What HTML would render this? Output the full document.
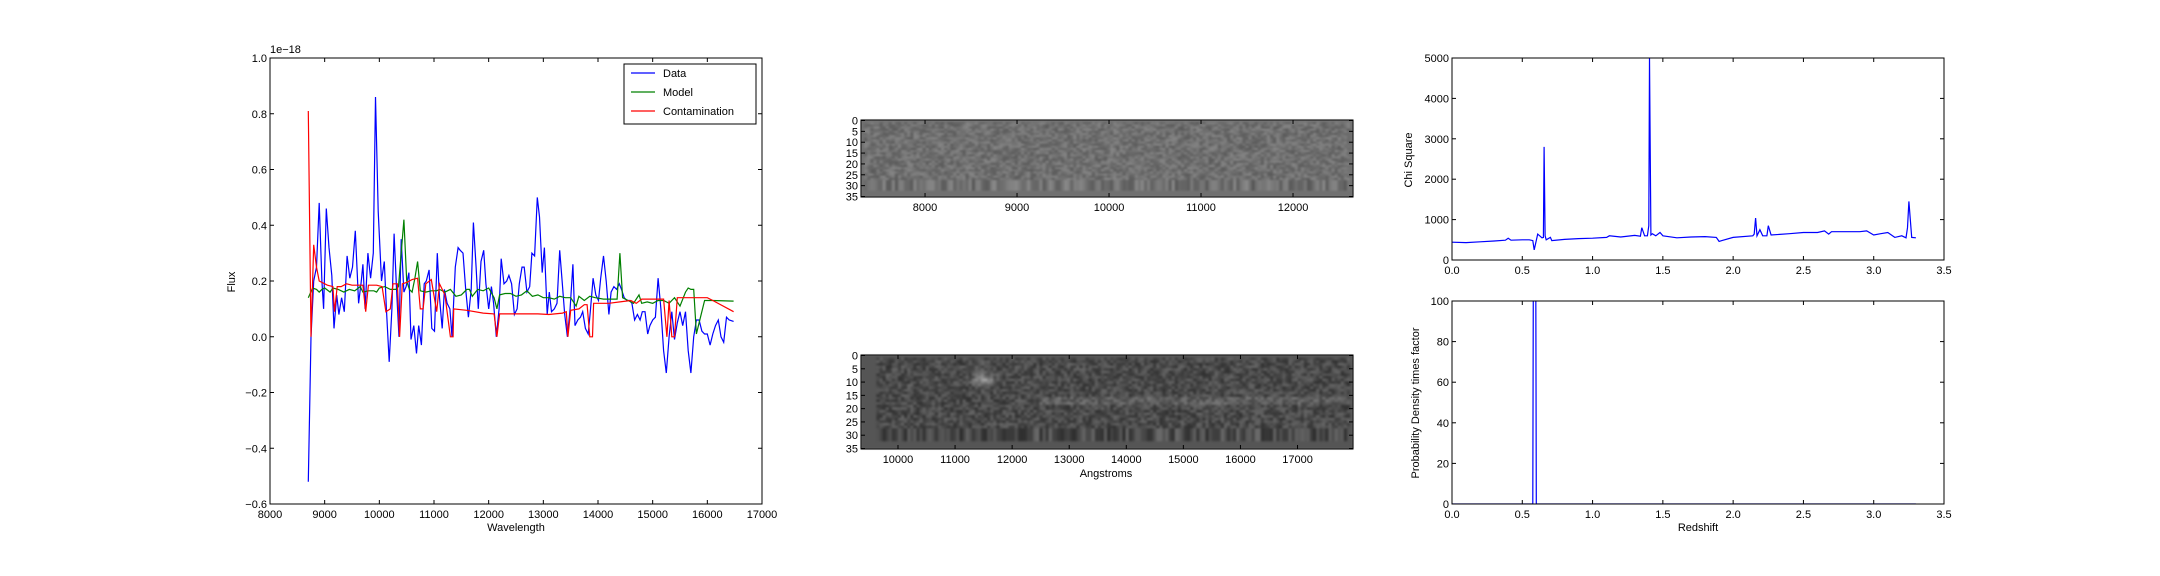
<!DOCTYPE html>
<html><head><meta charset="utf-8">
<style>
html,body{margin:0;padding:0;background:#fff;}
#wrap{position:relative;width:2160px;height:576px;overflow:hidden;background:#fff;}
svg{position:absolute;left:0;top:0;}
canvas{position:absolute;image-rendering:auto;filter:blur(0.8px);}
text{font-family:"Liberation Sans",sans-serif;font-size:11px;fill:#000;}
</style></head>
<body>
<div id="wrap">
<canvas id="img1" width="160" height="36" style="left:861px;top:120px;width:492px;height:77px;"></canvas>
<canvas id="img2" width="160" height="36" style="left:861px;top:355px;width:492px;height:94px;"></canvas>
<svg id="fig" width="2160" height="576"></svg>
</div>
<script>
// ---- Left spectrum chart data ----
const dataWave=[8700,8750,8800,8850,8900,8950,8980,9030,9080,9130,9170,9220,9260,9310,9360,9410,9460,9510,9560,9620,9670,9700,9740,9790,9840,9890,9930,9980,10040,10090,10130,10180,10230,10270,10320,10360,10400,10450,10490,10540,10580,10630,10680,10720,10770,10820,10860,10910,10960,11010,11060,11100,11150,11190,11240,11290,11330,11390,11440,11480,11530,11580,11630,11680,11720,11770,11810,11860,11910,11950,12000,12050,12090,12140,12190,12230,12280,12330,12370,12420,12470,12520,12560,12610,12650,12700,12750,12790,12840,12890,12930,12980,13020,13070,13110,13150,13200,13250,13300,13340,13390,13440,13490,13540,13580,13630,13680,13720,13770,13820,13860,13910,13960,14010,14050,14100,14150,14200,14240,14290,14340,14390,14430,14480,14530,14580,14620,14670,14720,14770,14810,14860,14910,14950,15000,15050,15100,15150,15200,15250,15300,15350,15400,15450,15500,15550,15600,15650,15700,15750,15800,15850,15900,15950,16000,16050,16100,16150,16200,16250,16300,16350,16400,16480];
const dataFlux=[-0.52,0.0,0.2,0.25,0.48,0.2,0.1,0.46,0.32,0.22,0.03,0.15,0.08,0.14,0.09,0.29,0.21,0.25,0.38,0.12,0.2,0.26,0.1,0.3,0.21,0.3,0.86,0.45,0.2,0.27,0.1,-0.09,0.1,0.37,0.15,0.0,0.35,0.16,0.18,0.23,-0.01,0.04,-0.06,0.04,-0.03,0.19,0.2,0.24,0.03,0.02,0.3,0.14,0.03,0.17,0.12,0.1,0.0,0.25,0.32,0.31,0.3,0.17,0.07,0.17,0.41,0.25,0.1,0.27,0.31,0.19,0.1,0.18,0.12,0.0,0.1,0.28,0.19,0.2,0.22,0.19,0.08,0.1,0.19,0.25,0.25,0.16,0.18,0.3,0.29,0.5,0.43,0.23,0.32,0.08,0.16,0.09,0.1,0.12,0.31,0.21,0.08,0.0,0.1,0.26,0.04,0.06,0.07,0.09,0.03,0.01,0.09,0.21,0.15,0.13,0.21,0.29,0.2,0.08,0.16,0.18,0.17,0.19,0.17,0.14,0.13,0.13,0.12,0.06,0.08,0.06,0.09,0.09,0.01,0.04,0.06,0.07,0.21,0.1,-0.05,-0.13,0.0,0.09,-0.01,0.05,0.09,0.04,0.09,-0.05,-0.13,0.0,0.06,0.06,0.02,0.01,0.01,-0.03,0.01,0.04,0.06,0.0,-0.02,0.07,0.06,0.055];
const modelWave=[8700,8780,8850,8900,8950,9000,9100,9150,9250,9350,9450,9550,9650,9700,9800,9900,9950,10000,10100,10200,10300,10350,10400,10450,10500,10550,10600,10650,10700,10750,10850,10950,11050,11100,11200,11300,11400,11500,11600,11650,11700,11800,11900,12000,12100,12150,12200,12300,12400,12500,12600,12700,12800,12900,13000,13100,13200,13300,13400,13500,13600,13650,13750,13850,13950,14100,14200,14350,14400,14450,14550,14650,14750,14800,14900,15000,15100,15200,15300,15400,15500,15600,15650,15700,15750,15800,15850,15950,16100,16480];
const modelFlux=[0.14,0.175,0.17,0.16,0.17,0.175,0.16,0.175,0.17,0.16,0.17,0.165,0.18,0.16,0.165,0.165,0.16,0.175,0.18,0.17,0.17,0.18,0.3,0.42,0.2,0.17,0.16,0.21,0.27,0.165,0.16,0.165,0.165,0.17,0.16,0.17,0.145,0.15,0.17,0.17,0.145,0.17,0.165,0.175,0.14,0.1,0.15,0.155,0.155,0.145,0.15,0.165,0.145,0.15,0.14,0.14,0.135,0.145,0.14,0.14,0.11,0.145,0.13,0.145,0.14,0.135,0.135,0.135,0.3,0.14,0.13,0.12,0.15,0.12,0.125,0.12,0.13,0.13,0.12,0.14,0.11,0.16,0.175,0.17,0.17,0.01,0.05,0.13,0.13,0.128];
const contWave=[8700,8750,8800,8850,8900,9000,9050,9150,9180,9230,9300,9400,9500,9700,9750,9800,9950,10050,10120,10200,10250,10330,10370,10420,10500,10600,10700,10750,10800,10850,10950,11050,11100,11200,11300,11350,11360,11600,11900,12100,12150,12200,12500,12900,13100,13350,13420,13450,13500,13650,13750,13800,13850,13900,13920,14200,14400,14600,14700,14800,15200,15260,15300,15350,15400,15450,15800,16000,16100,16480];
const contFlux=[0.81,0.0,0.33,0.25,0.2,0.19,0.185,0.18,0.09,0.18,0.18,0.19,0.185,0.185,0.09,0.185,0.185,0.18,0.09,0.1,0.19,0.19,0.0,0.19,0.195,0.205,0.21,0.1,0.1,0.19,0.205,0.09,0.19,0.15,0.0,0.0,0.1,0.095,0.085,0.082,0.0,0.082,0.082,0.082,0.08,0.085,0.09,0.0,0.095,0.1,0.115,0.115,0.0,0.0,0.12,0.12,0.125,0.13,0.12,0.135,0.135,0.0,0.13,0.0,0.0,0.14,0.14,0.14,0.13,0.09];
const leftXTicks=[8000,9000,10000,11000,12000,13000,14000,15000,16000,17000];
const leftYTicks=[-0.6,-0.4,-0.2,0.0,0.2,0.4,0.6,0.8,1.0];
const leftYLabels=["\u22120.6","\u22120.4","\u22120.2","0.0","0.2","0.4","0.6","0.8","1.0"];
// ---- Chi square data ----
const chiZ=[0,0.1,0.2,0.3,0.38,0.4,0.42,0.5,0.55,0.575,0.585,0.61,0.64,0.65,0.655,0.662,0.67,0.7,0.71,0.8,0.9,1.0,1.1,1.12,1.2,1.3,1.34,1.35,1.37,1.39,1.4,1.405,1.415,1.425,1.45,1.48,1.5,1.6,1.7,1.8,1.88,1.9,1.92,2.0,2.14,2.15,2.16,2.17,2.19,2.21,2.24,2.25,2.27,2.4,2.5,2.6,2.65,2.68,2.7,2.9,2.95,3.0,3.05,3.1,3.15,3.2,3.23,3.24,3.25,3.27,3.3];
const chiVal=[440,430,450,470,490,540,490,500,500,480,250,640,550,560,2800,600,500,560,480,510,530,540,560,600,570,610,590,800,600,600,850,5000,620,650,600,680,600,550,570,580,560,460,480,560,600,640,1040,600,750,600,600,850,620,650,680,680,720,640,700,700,720,620,650,680,560,600,550,800,1450,560,550];
const chiXTicks=[0,0.5,1.0,1.5,2.0,2.5,3.0,3.5];
const chiXLabels=["0.0","0.5","1.0","1.5","2.0","2.5","3.0","3.5"];
const chiYTicks=[0,1000,2000,3000,4000,5000];
// ---- Probability data ----
const probZ=[0,0.57,0.575,0.58,0.595,0.6,0.605,3.3];
const probVal=[0,0,0,150,150,0,0,0];
const probYTicks=[0,20,40,60,80,100];
// ---- image axes ticks ----
const img1XTicks=[8000,9000,10000,11000,12000];
const img2XTicks=[10000,11000,12000,13000,14000,15000,16000,17000];
const imgYTicks=[0,5,10,15,20,25,30,35];

const NS="http://www.w3.org/2000/svg";
const svg=document.getElementById('fig');
function el(tag,attrs,parent){const e=document.createElementNS(NS,tag);for(const k in attrs)e.setAttribute(k,attrs[k]);(parent||svg).appendChild(e);return e;}
function lin(d0,d1,r0,r1){return v=>r0+(v-d0)/(d1-d0)*(r1-r0);}
function txt(x,y,s,anchor,name,rot){const t=el('text',{x:x,y:y,'text-anchor':anchor||'middle'});t.textContent=s;


if(rot)t.setAttribute('transform','rotate(-90 '+x+' '+y+')');return t;}
function frame(x0,y0,x1,y1,name){const r=el('rect',{x:x0,y:y0,width:x1-x0,height:y1-y0,fill:'none',stroke:'#000','stroke-width':1});

}
function xticks(vals,labels,sx,y0,y1,name){vals.forEach((v,i)=>{const x=sx(v);
el('line',{x1:x,x2:x,y1:y1,y2:y1-4,stroke:'#000'});el('line',{x1:x,x2:x,y1:y0,y2:y0+4,stroke:'#000'});
txt(x,y1+14,labels?labels[i]:String(v),'middle',name);});}
function yticks(vals,labels,sy,x0,x1,name){vals.forEach((v,i)=>{const y=sy(v);
el('line',{x1:x0,x2:x0+4,y1:y,y2:y,stroke:'#000'});el('line',{x1:x1,x2:x1-4,y1:y,y2:y,stroke:'#000'});
txt(x0-3,y+4,labels?labels[i]:String(v),'end',name);});}
function path(xs,ys,sx,sy,color,name,clip){const d=xs.map((v,i)=>(i?'L':'M')+sx(v).toFixed(1)+' '+sy(ys[i]).toFixed(1)).join(' ');
const p=el('path',{d:d,fill:'none',stroke:color,'stroke-width':1.2});if(clip)p.setAttribute('clip-path','url(#'+clip+')');

return p;}
const defs=el('defs',{});
function clipRect(id,x0,y0,x1,y1){const c=el('clipPath',{id:id},defs);el('rect',{x:x0,y:y0,width:x1-x0,height:y1-y0},c);}

// Left chart
{const X0=270,X1=762,Y0=58,Y1=504;const sx=lin(8000,17000,X0,X1),sy=lin(-0.6,1.0,Y1,Y0);
clipRect('cL',X0,Y0,X1,Y1);
path(dataWave,dataFlux,sx,sy,'#0000ff','data-line','cL');
path(modelWave,modelFlux,sx,sy,'#008000','model-line','cL');
path(contWave,contFlux,sx,sy,'#ff0000','contamination-line','cL');
frame(X0,Y0,X1,Y1,'spectrum-axes');
xticks(leftXTicks,null,sx,Y0,Y1,'x-tick-label');
yticks(leftYTicks,leftYLabels,sy,X0,X1,'y-tick-label');
txt(X0,Y0-5,'1e\u221218','start','y-offset-label');
txt((X0+X1)/2,531,'Wavelength','middle','x-axis-title');
txt(235,282,'Flux','middle','y-axis-title',true);
const lg=el('rect',{x:624,y:64,width:132,height:60,fill:'#fff',stroke:'#000'});


[['Data','#0000ff'],['Model','#008000'],['Contamination','#ff0000']].forEach((e,i)=>{const y=73+i*19;
el('line',{x1:631,x2:655,y1:y,y2:y,stroke:e[1],'stroke-width':1.2});
const t=txt(663,y+4,e[0],'start','legend-entry');t.setAttribute('font-size','12');});
}
// Image axes
{const X0=861,X1=1353,Y0=120,Y1=197;const sx=lin(7304,12652,X0,X1);
frame(X0,Y0,X1,Y1,'image-top-axes');xticks(img1XTicks,null,sx,Y0,Y1,'x-tick-label');
yticks(imgYTicks,null,v=>Y0+(v/35)*(Y1-Y0-1)+0.5,X0,X1,'y-tick-label');}
{const X0=861,X1=1353,Y0=355,Y1=449;const sx=lin(9352,17972,X0,X1);
frame(X0,Y0,X1,Y1,'image-bottom-axes');xticks(img2XTicks,null,sx,Y0,Y1,'x-tick-label');
yticks(imgYTicks,null,v=>Y0+(v/35)*(Y1-Y0-1)+0.5,X0,X1,'y-tick-label');
txt(1106,477,'Angstroms','middle','x-axis-title');}
// Chi square
{const X0=1452,X1=1944,Y0=58,Y1=260;const sx=lin(0,3.5,X0,X1),sy=lin(0,5000,Y1,Y0);
clipRect('cC',X0,Y0,X1,Y1);path(chiZ,chiVal,sx,sy,'#0000ff','chi-square-line','cC');
frame(X0,Y0,X1,Y1,'chi-square-axes');xticks(chiXTicks,chiXLabels,sx,Y0,Y1,'x-tick-label');
yticks(chiYTicks,null,sy,X0,X1,'y-tick-label');txt(1412,160,'Chi Square','middle','y-axis-title',true);}
// Probability
{const X0=1452,X1=1944,Y0=301,Y1=504;const sx=lin(0,3.5,X0,X1),sy=lin(0,100,Y1,Y0);
clipRect('cP',X0,Y0,X1,Y1);path(probZ,probVal,sx,sy,'#0000ff','probability-line','cP');
frame(X0,Y0,X1,Y1,'probability-axes');xticks(chiXTicks,chiXLabels,sx,Y0,Y1,'x-tick-label');
yticks(probYTicks,null,sy,X0,X1,'y-tick-label');txt(1419,403,'Probability Density times factor','middle','y-axis-title',true);
txt((X0+X1)/2,531,'Redshift','middle','x-axis-title');}

// image textures (deterministic hash noise)
function h(i,j,s){const v=Math.sin(i*12.9898+j*78.233+s*37.719)*43758.5453;return v-Math.floor(v);}
function drawImg(id,wmin,wmax,startW,endW,base,amp,bg,seed,blob){const c=document.getElementById(id),ctx=c.getContext('2d');
const W=c.width,H=c.height;const im=ctx.createImageData(W,H);
for(let j=0;j<H;j++)for(let i=0;i<W;i++){const w=wmin+(i+0.5)/W*(wmax-wmin);let g=bg;
if(j>=1&&j<33&&w>=startW&&w<=endW){g=base+(h(i,j,seed)-0.5)*amp;
if(j>=28)g=base+(h(i,0,seed+3)-0.5)*amp*1.2;
if(blob){const dx=(w-blob[0])/180,dy=(j-blob[1])/2.2;g+=70*Math.exp(-(dx*dx+dy*dy));
if(Math.abs(j-17)<1.5&&w>12500)g+=20;}}
g=Math.max(0,Math.min(255,g));const k=4*(j*W+i);im.data[k]=im.data[k+1]=im.data[k+2]=g;im.data[k+3]=255;}
ctx.putImageData(im,0,0);}
drawImg('img1',7304,12652,7330,12620,112,45,112,1,null);
drawImg('img2',9352,17972,9600,17940,75,55,85,2,[11500,9]);
</script>
</body></html>
